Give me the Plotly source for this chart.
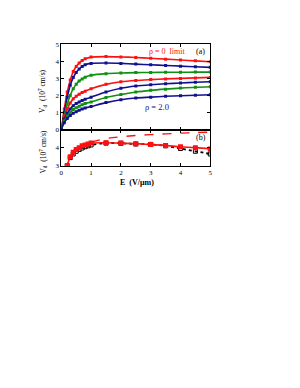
import plotly.graph_objects as go

E_a = [0, 0.1, 0.2, 0.3, 0.4, 0.5, 0.6, 0.7, 0.8, 1.0, 1.5, 2.0, 2.5, 3.0, 3.5, 4.0, 4.5, 5.0]
red1 = [0, 1.2, 2.2, 2.9, 3.4, 3.7, 3.9, 4.05, 4.15, 4.25, 4.28, 4.26, 4.23, 4.18, 4.13, 4.08, 4.03, 3.98]
blue1 = [0, 1.0, 1.9, 2.6, 3.05, 3.35, 3.55, 3.7, 3.8, 3.88, 3.9, 3.88, 3.84, 3.8, 3.76, 3.72, 3.68, 3.65]
green1 = [0, 0.8, 1.5, 2.0, 2.4, 2.65, 2.85, 2.97, 3.07, 3.18, 3.28, 3.32, 3.34, 3.35, 3.36, 3.36, 3.37, 3.37]
red2 = [0, 0.75, 1.2, 1.55, 1.8, 1.95, 2.07, 2.17, 2.25, 2.4, 2.65, 2.8, 2.88, 2.93, 2.97, 3.0, 3.03, 3.06]
blue2 = [0, 0.6, 0.95, 1.2, 1.4, 1.52, 1.62, 1.7, 1.78, 1.9, 2.2, 2.42, 2.55, 2.63, 2.69, 2.73, 2.77, 2.8]
green2 = [0, 0.5, 0.8, 1.0, 1.17, 1.28, 1.37, 1.45, 1.52, 1.62, 1.88, 2.05, 2.2, 2.3, 2.37, 2.43, 2.48, 2.51]
blue3 = [0, 0.4, 0.65, 0.82, 0.95, 1.05, 1.13, 1.2, 1.26, 1.35, 1.58, 1.75, 1.85, 1.9, 1.95, 1.98, 2.01, 2.04]

E_b = [0.2, 0.3, 0.4, 0.5, 0.6, 0.7, 0.8, 0.9, 1.0, 1.5, 2.0, 2.5, 3.0, 3.5, 4.0, 4.5, 5.0]
red_b = [3.0, 3.5, 3.75, 3.9, 4.0, 4.1, 4.15, 4.2, 4.25, 4.27, 4.25, 4.22, 4.17, 4.12, 4.05, 4.0, 3.93]
E_bk = [0.2, 0.3, 0.4, 0.5, 0.6, 0.7, 0.8, 0.9, 1.0, 1.5, 2.0, 2.5, 3.0, 3.5, 4.0, 4.5, 5.0]
black_b = [3.0, 3.45, 3.65, 3.8, 3.9, 3.98, 4.05, 4.1, 4.15, 4.25, 4.24, 4.2, 4.18, 4.1, 3.95, 3.8, 3.65]
E_dash = [1.0, 1.5, 2.0, 2.5, 3.0, 3.5, 4.0, 4.5, 5.0]
dash_b = [4.3, 4.5, 4.6, 4.67, 4.72, 4.76, 4.8, 4.83, 4.86]

RED = "#ff1010"
BLUE = "#101090"
GREEN = "#109010"
FONT = "Liberation Serif"

fig = go.Figure()
for ys, c in [(red1, RED), (blue1, BLUE), (green1, GREEN), (red2, RED),
              (blue2, BLUE), (green2, GREEN), (blue3, BLUE)]:
    fig.add_trace(go.Scatter(x=E_a, y=ys, mode="lines+markers",
                             line=dict(color=c, width=1.6, shape="spline", smoothing=0.8),
                             marker=dict(symbol="square", size=3, color=c),
                             xaxis="x", yaxis="y", showlegend=False))

fig.add_trace(go.Scatter(x=E_dash, y=dash_b, mode="lines",
                         line=dict(color=RED, width=1.4, dash="dash", shape="spline"),
                         xaxis="x2", yaxis="y2", showlegend=False))
fig.add_trace(go.Scatter(x=E_bk, y=black_b, mode="lines+markers",
                         line=dict(color="black", width=1.8, dash="dot", shape="spline"),
                         marker=dict(symbol="square-open", size=4, color="black"),
                         xaxis="x2", yaxis="y2", showlegend=False))
fig.add_trace(go.Scatter(x=E_b, y=red_b, mode="lines+markers",
                         line=dict(color=RED, width=1.6, shape="spline"),
                         marker=dict(symbol="square", size=5, color=RED),
                         xaxis="x2", yaxis="y2", showlegend=False))

H = 388.0
W = 300.0
OFF = 8  # page body margin
def px(x):
    return (x - OFF) / W
def py(y):
    return 1 - (y - OFF) / H

dom_x = [px(60), px(211)]
ax_common = dict(showline=True, linecolor="black", linewidth=1, mirror="allticks",
                 ticks="inside", ticklen=3, tickcolor="black", showgrid=False,
                 zeroline=False, tickfont=dict(family=FONT, size=7, color="black"))

fig.update_layout(
    width=300, height=388, autosize=False,
    margin=dict(l=0, r=0, t=0, b=0),
    paper_bgcolor="white", plot_bgcolor="white",
    xaxis=dict(domain=dom_x, range=[0, 5], tickvals=[0, 1, 2, 3, 4, 5],
               showticklabels=False, anchor="y", **ax_common),
    yaxis=dict(domain=[py(128), py(41)], range=[0, 5],
               tickvals=[0, 1, 2, 3, 4, 5], anchor="x", **ax_common),
    xaxis2=dict(domain=dom_x, range=[0, 5], tickvals=[0, 1, 2, 3, 4, 5],
                anchor="y2", **ax_common),
    yaxis2=dict(domain=[py(165), py(128)], range=[3, 5],
                tickvals=[3, 4, 5], ticktext=["3", "4", ""], anchor="x2", **ax_common),
    annotations=[
        dict(text="V<sub>d</sub>  (10<sup>7</sup> cm/s)", textangle=-90,
             x=px(41), y=py(89), xref="paper", yref="paper",
             xanchor="center", yanchor="middle",
             showarrow=False, font=dict(family=FONT, size=7.5, color="black")),
        dict(text="V<sub>d</sub>  (10<sup>7</sup> cm/s)", textangle=-90,
             x=px(41), y=py(151), xref="paper", yref="paper",
             xanchor="center", yanchor="middle",
             showarrow=False, font=dict(family=FONT, size=7.5, color="black")),
        dict(text="<b>E  (V/μm)</b>", x=px(137), y=py(182),
             xref="paper", yref="paper", showarrow=False,
             xanchor="center", yanchor="middle",
             font=dict(family=FONT, size=8, color="black")),
        dict(text="ρ = 0  limit", x=3.55, y=4.55, xref="x", yref="y",
             showarrow=False, font=dict(family=FONT, size=8, color=RED)),
        dict(text="(a)", x=4.68, y=4.55, xref="x", yref="y",
             showarrow=False, font=dict(family=FONT, size=8, color="black")),
        dict(text="ρ = 2.0", x=3.2, y=1.3, xref="x", yref="y",
             showarrow=False, font=dict(family=FONT, size=8.5, color=BLUE)),
        dict(text="(b)", x=4.68, y=4.55, xref="x2", yref="y2",
             showarrow=False, font=dict(family=FONT, size=8, color="black")),
    ],
)

fig.write_html("out.html")
